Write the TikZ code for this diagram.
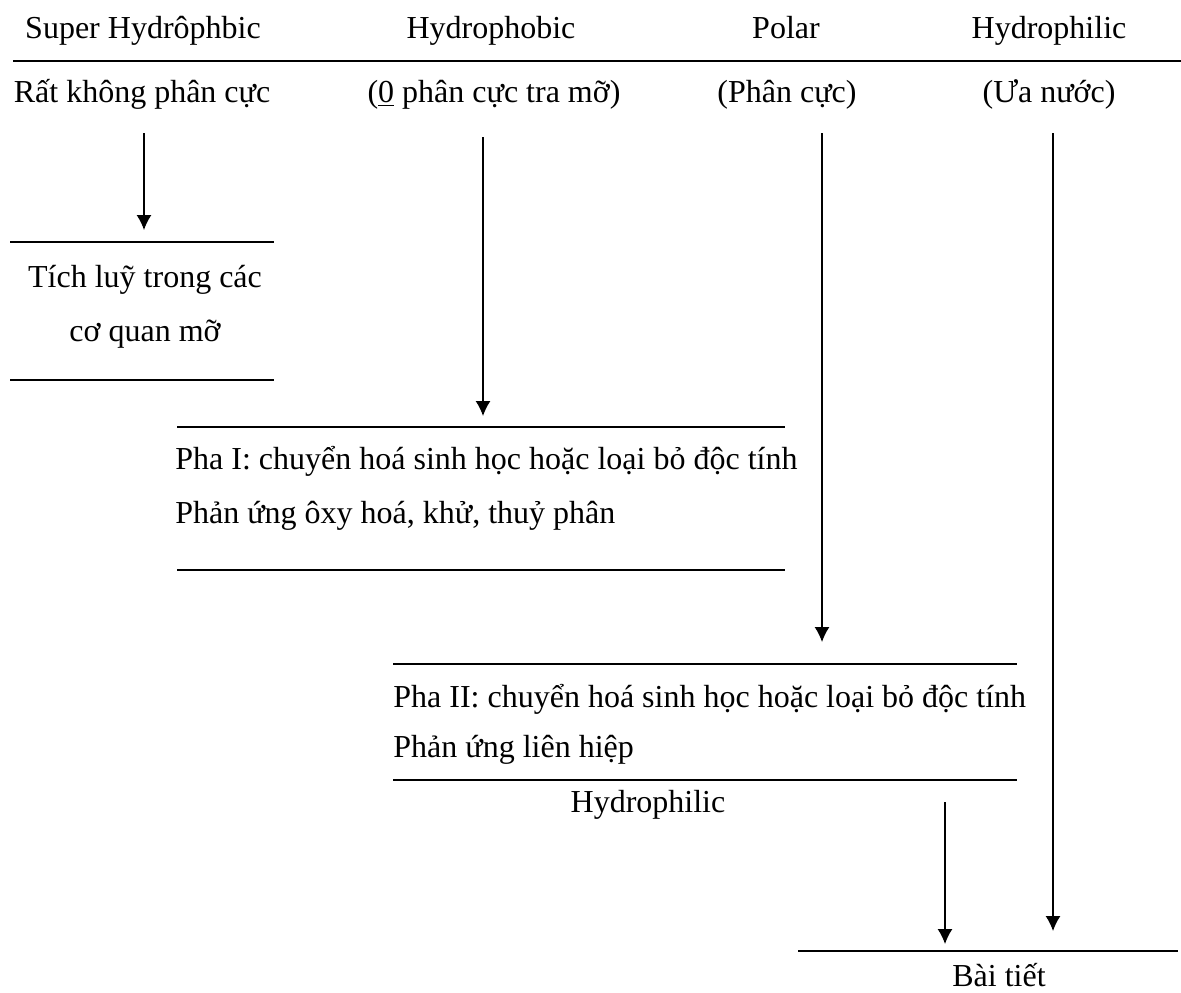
\documentclass[tikz,border=0pt]{standalone}
\usepackage{fontspec}
\setmainfont{Liberation Serif}
\usetikzlibrary{arrows.meta}

\begin{document}
\begin{tikzpicture}[x=0.5pt,y=-0.5pt,
    txt/.style={inner sep=0pt,anchor=base,font=\fontsize{16}{19}\selectfont},
    ltxt/.style={txt,anchor=base west},
    rule/.style={line width=1pt},
    arr/.style={line width=0.7pt,-{Latex[length=7.5pt,width=7.5pt]}}]
    \useasboundingbox (0,0) rectangle (1181,992);
    % header row
    \node[txt] (super) at (143,38) {Super Hydrôphbic};
    \node[txt] (phobic) at (491,38) {Hydrophobic};
    \node[txt] (polar) at (786,38) {Polar};
    \node[txt] (philic) at (1049,38) {Hydrophilic};
    \draw[rule] (13,61)--(1181,61);
    \node[txt] (superv) at (142,102) {Rất không phân cực};
    \node[txt] (phobicv) at (494,102) {(\underline{0} phân cực tra mỡ)};
    \node[txt] (polarv) at (787,102) {(Phân cực)};
    \node[txt] (philicv) at (1049,102) {(Ưa nước)};
    % tich luy
    \draw[rule] (10,242)--(274,242);
    \node[txt] (tich) at (145,287) {Tích luỹ trong các};
    \node[txt] (coquan) at (145,341) {cơ quan mỡ};
    \draw[rule] (10,380)--(274,380);
    % pha I
    \draw[rule] (177,427)--(785,427);
    \node[ltxt] (phaI) at (175,469) {Pha I: chuyển hoá sinh học hoặc loại bỏ độc tính};
    \node[ltxt] (phaIb) at (175,523) {Phản ứng ôxy hoá, khử, thuỷ phân};
    \draw[rule] (177,570)--(785,570);
    % pha II
    \draw[rule] (393,664)--(1017,664);
    \node[ltxt] (phaII) at (393,707) {Pha II: chuyển hoá sinh học hoặc loại bỏ độc tính};
    \node[ltxt] (phaIIb) at (393,757) {Phản ứng liên hiệp};
    \draw[rule] (393,780)--(1017,780);
    \node[txt] (hydro) at (648,812) {Hydrophilic};
    % bai tiet
    \draw[rule] (798,951)--(1178,951);
    \node[txt] (baitiet) at (999,986) {Bài tiết};
    % arrows
    \coordinate (s1) at (144,133);
    \coordinate (e1) at (144,230);
    \coordinate (s2) at (483,137);
    \coordinate (e2) at (483,416);
    \coordinate (s3) at (822,133);
    \coordinate (e3) at (822,642);
    \coordinate (s4) at (945,802);
    \coordinate (e4) at (945,944);
    \coordinate (s5) at (1053,133);
    \coordinate (e5) at (1053,931);
    \draw[arr] (s1)--(e1);
    \draw[arr] (s2)--(e2);
    \draw[arr] (s3)--(e3);
    \draw[arr] (s4)--(e4);
    \draw[arr] (s5)--(e5);
\end{tikzpicture}
\end{document}
